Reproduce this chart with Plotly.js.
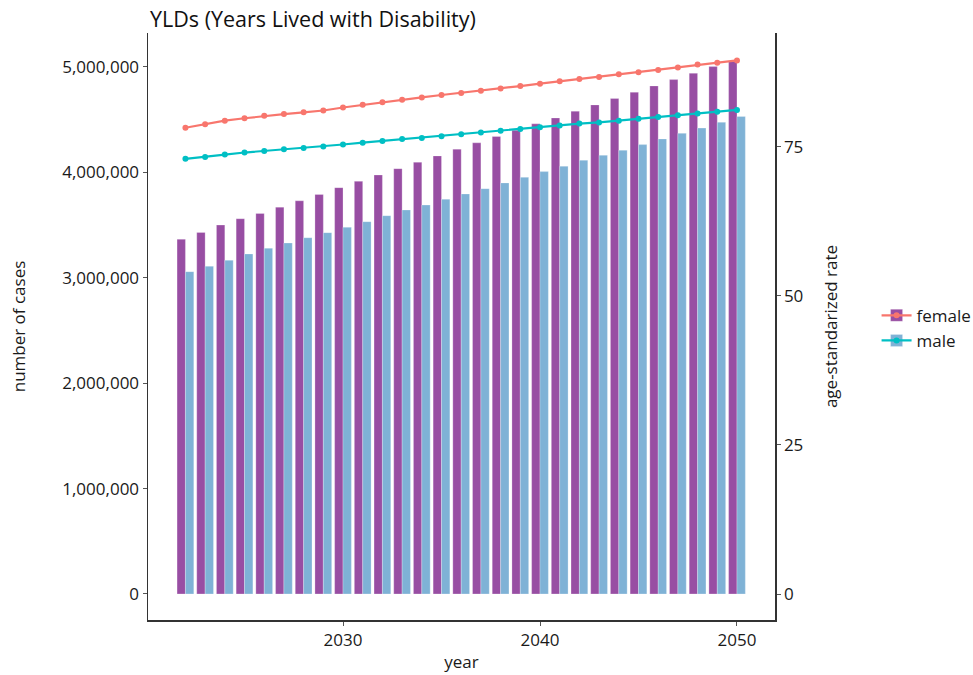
<!DOCTYPE html>
<html>
<head>
<meta charset="utf-8">
<script src="https://cdn.plot.ly/plotly-3.0.1.min.js"></script>
<style>html,body{margin:0;padding:0;background:#fff;}#chart{width:973px;height:675px;}</style>
</head>
<body>
<div id="chart"></div>
<script>
var years = [2022,2023,2024,2025,2026,2027,2028,2029,2030,2031,2032,2033,2034,2035,2036,2037,2038,2039,2040,2041,2042,2043,2044,2045,2046,2047,2048,2049,2050];
var femaleCases = [3365000,3430000,3500000,3560000,3610000,3670000,3730000,3790000,3855000,3915000,3975000,4035000,4096000,4156000,4220000,4280000,4340000,4400000,4460000,4516000,4580000,4640000,4700000,4760000,4820000,4880000,4940000,5003000,5054000];
var maleCases = [3058000,3109000,3166000,3226000,3280000,3330000,3380000,3428000,3479000,3532000,3589000,3643000,3690000,3745000,3795000,3845000,3900000,3953000,4007000,4058000,4115000,4162000,4210000,4263000,4317000,4370000,4420000,4475000,4530000];
var femaleRate = [78.2,78.8,79.4,79.8,80.2,80.5,80.8,81.1,81.6,82.05,82.5,82.9,83.3,83.7,84.05,84.4,84.8,85.2,85.6,86.0,86.4,86.7,87.2,87.5,87.9,88.3,88.8,89.1,89.5];
var maleRate = [73.0,73.3,73.7,74.05,74.3,74.6,74.8,75.05,75.4,75.7,76.0,76.3,76.5,76.8,77.1,77.4,77.7,78.0,78.3,78.6,78.9,79.1,79.4,79.7,80.0,80.3,80.6,80.9,81.2];
var seriesNames = ['female','male'];
var leftTicks = [0,1000000,2000000,3000000,4000000,5000000];
var rightTicks = [0,25,50,75];
var xTicks = [2030,2040,2050];

var FONT = '"Open Sans", "Noto Sans", sans-serif';
var barColors = ['#984EA3','#7FB2D6'];
var lineColors = ['#F8766D','#00BFC4'];

var traces = [
  {type:'bar', x:years, y:femaleCases, name:seriesNames[0], legend:'legend',
   marker:{color:barColors[0], line:{color:'rgba(255,255,255,0.5)', width:0.5}}},
  {type:'bar', x:years, y:maleCases, name:seriesNames[1], legend:'legend',
   marker:{color:barColors[1], line:{color:'rgba(255,255,255,0.5)', width:0.5}}},
  {type:'scatter', mode:'lines+markers', x:years, y:femaleRate, yaxis:'y2', name:seriesNames[0], legend:'legend2',
   line:{color:lineColors[0], width:2.2}, marker:{color:lineColors[0], size:6}},
  {type:'scatter', mode:'lines+markers', x:years, y:maleRate, yaxis:'y2', name:seriesNames[1], legend:'legend2',
   line:{color:lineColors[1], width:2.2}, marker:{color:lineColors[1], size:6}}
];

var axisCommon = {
  showgrid:false, zeroline:false, showline:true, linecolor:'#333', linewidth:1.5,
  ticks:'outside', ticklen:4, tickcolor:'#555', tickwidth:1,
  tickfont:{family:FONT, size:17, color:'#1a1a1a'}
};

var legendCommon = {
  x:1.162, xanchor:'left', y:0.497, yanchor:'middle',
  bgcolor:'rgba(0,0,0,0)', borderwidth:0, traceorder:'normal', itemclick:false,
  tracegroupgap:0
};

var layout = {
  width:973, height:675,
  margin:{l:148, r:198, t:33, b:55, autoexpand:false},
  paper_bgcolor:'#fff', plot_bgcolor:'#fff',
  font:{family:FONT, color:'#1a1a1a'},
  title:{text:'YLDs (Years Lived with Disability)', x:150/973, xanchor:'left', xref:'container',
         y:1-19/675, yanchor:'middle', yref:'container', font:{family:FONT, size:21.5, color:'#111'}},
  barmode:'group', bargap:0.15, bargroupgap:0,
  xaxis:Object.assign({}, axisCommon, {range:[2020.1, 2051.93], tickvals:xTicks, ticktext:xTicks.map(String),
    title:{text:'year', standoff:6, font:{family:FONT, size:17, color:'#1a1a1a'}}}),
  yaxis:Object.assign({}, axisCommon, {range:[-247000, 5322000], tickvals:leftTicks, tickformat:',d',
    title:{text:'number of cases', standoff:32, font:{family:FONT, size:17, color:'#1a1a1a'}}}),
  yaxis2:Object.assign({}, axisCommon, {range:[-4.36, 94.1], tickvals:rightTicks, overlaying:'y', side:'right',
    title:{text:'age-standarized rate', standoff:22, font:{family:FONT, size:17, color:'#1a1a1a'}}}),
  legend:Object.assign({}, legendCommon, {font:{family:FONT, size:17, color:'#1a1a1a'}}),
  legend2:Object.assign({}, legendCommon, {font:{family:FONT, size:17, color:'rgba(0,0,0,0)'}}),
  showlegend:true
};

Plotly.newPlot('chart', traces, layout, {displayModeBar:false, staticPlot:true});
</script>
</body>
</html>
